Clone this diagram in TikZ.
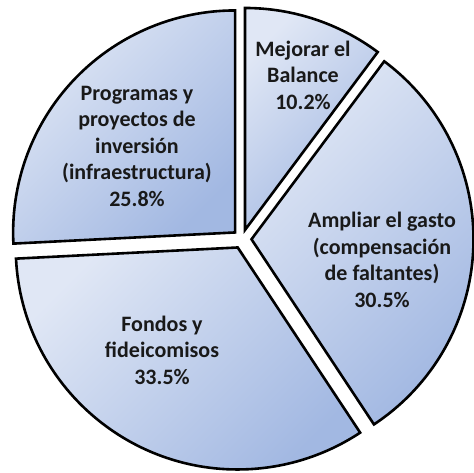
\documentclass[tikz,border=0pt]{standalone}
\usepackage{fontspec}
\setmainfont{Carlito}
\usetikzlibrary{calc}

\definecolor{sliceLight}{HTML}{E0E7F5}
\definecolor{sliceDark}{HTML}{A2B8E2}

\begin{document}
\begin{tikzpicture}[x=1pt,y=1pt,
    slice/.style={draw=black, line width=2.6pt, line join=miter,
      left color=sliceLight, right color=sliceDark, shading angle=45},
    lbl/.style={align=center, font=\bfseries\fontsize{22}{26.5}\selectfont, text=black!90}]
    \useasboundingbox (0,0) rectangle (474,472);
    \coordinate (c) at (242,233);

    % slices, clockwise from the top
    \draw[slice] ($(c)+(71.64:9.5)$) coordinate (mejorarTip)
      -- ++(53.28:222) arc[start angle=53.28, end angle=90, radius=222] -- cycle;
    \draw[slice] ($(c)+(-1.62:9.5)$) coordinate (ampliarTip)
      -- ++(-56.52:222) arc[start angle=-56.52, end angle=53.28, radius=222] -- cycle;
    \draw[slice] ($(c)+(-116.82:9.5)$) coordinate (fondosTip)
      -- ++(-177.12:222) arc[start angle=-177.12, end angle=-56.52, radius=222] -- cycle;
    \draw[slice] ($(c)+(136.44:9.5)$) coordinate (programasTip)
      -- ++(90:222) arc[start angle=90, end angle=182.88, radius=222] -- cycle;

    \node[lbl] (mejorar) at (303,397) {Mejorar el\\Balance\\10.2\%};
    \node[lbl] (ampliar) at (382,212) {Ampliar el gasto\\(compensación\\de faltantes)\\30.5\%};
    \node[lbl] (fondos) at (162,122) {Fondos y\\fideicomisos\\33.5\%};
    \node[lbl] (programas) at (137,326) {Programas y\\proyectos de\\inversión\\(infraestructura)\\25.8\%};
\end{tikzpicture}
\end{document}
